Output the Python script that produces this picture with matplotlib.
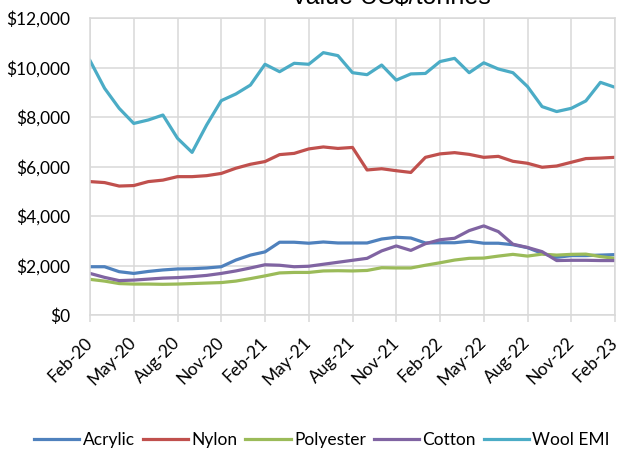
import numpy as np
import matplotlib.pyplot as plt

# Monthly fibre prices, Feb-20 .. Feb-23 (US$/tonne)
months = ["Feb-20", "Mar-20", "Apr-20", "May-20", "Jun-20", "Jul-20", "Aug-20", "Sep-20",
          "Oct-20", "Nov-20", "Dec-20", "Jan-21", "Feb-21", "Mar-21", "Apr-21", "May-21",
          "Jun-21", "Jul-21", "Aug-21", "Sep-21", "Oct-21", "Nov-21", "Dec-21", "Jan-22",
          "Feb-22", "Mar-22", "Apr-22", "May-22", "Jun-22", "Jul-22", "Aug-22", "Sep-22",
          "Oct-22", "Nov-22", "Dec-22", "Jan-23", "Feb-23"]

acrylic = [1950, 1950, 1750, 1680, 1760, 1820, 1860, 1870, 1900, 1950, 2220, 2420, 2550,
           2940, 2940, 2900, 2950, 2910, 2910, 2910, 3070, 3140, 3110, 2910, 2920,
           2920, 2980, 2900, 2900, 2840, 2720, 2490, 2330, 2400, 2400, 2420, 2440]
nylon = [5390, 5350, 5210, 5230, 5390, 5450, 5590, 5590, 5630, 5720, 5930, 6090, 6200,
         6480, 6530, 6710, 6790, 6730, 6770, 5860, 5910, 5830, 5760, 6370, 6510,
         6560, 6490, 6370, 6410, 6210, 6130, 5970, 6020, 6170, 6320, 6340, 6370]
polyester = [1440, 1370, 1270, 1250, 1250, 1240, 1250, 1270, 1290, 1310, 1370, 1470, 1580,
             1700, 1720, 1720, 1780, 1790, 1780, 1800, 1910, 1900, 1900, 2010, 2110,
             2220, 2290, 2300, 2380, 2450, 2380, 2460, 2420, 2450, 2460, 2360, 2290]
cotton = [1680, 1520, 1390, 1410, 1450, 1490, 1510, 1550, 1600, 1680, 1780, 1900, 2030,
          2010, 1950, 1970, 2050, 2130, 2210, 2290, 2590, 2790, 2610, 2880, 3040,
          3100, 3410, 3600, 3370, 2860, 2730, 2560, 2200, 2210, 2210, 2200, 2200]
wool_emi = [10280, 9160, 8350, 7740, 7880, 8080, 7140, 6570, 7680, 8660, 8930, 9290, 10130,
            9830, 10170, 10130, 10600, 10480, 9790, 9710, 10100, 9490, 9740, 9760, 10240,
            10370, 9790, 10190, 9940, 9790, 9230, 8420, 8220, 8350, 8650, 9400, 9200]

series = [("Acrylic", acrylic, "#4F81BD"),
          ("Nylon", nylon, "#C0504D"),
          ("Polyester", polyester, "#9BBB59"),
          ("Cotton", cotton, "#8064A2"),
          ("Wool EMI", wool_emi, "#4BACC6")]

plt.rcParams["font.family"] = ["Lato", "DejaVu Sans"]

fig = plt.figure(figsize=(6.2, 4.51), dpi=100)
ax = fig.add_axes([90 / 620, 1 - 315 / 451, 525 / 620, 297 / 451])

x = np.arange(len(months))
for name, vals, col in series:
    ax.plot(x, vals, color=col, linewidth=2.3, label=name, solid_joinstyle="round")

ax.set_xlim(0, len(months) - 1)
ax.set_ylim(0, 12000)
ax.set_yticks(range(0, 12001, 2000))
ax.set_yticklabels([f"${v:,}" for v in range(0, 12001, 2000)])
ax.set_xticks(x[::3])
ax.set_xticklabels(months[::3], rotation=45, ha="right", va="center", rotation_mode="anchor")

ax.grid(True, color="#D9D9D9", linewidth=1.1)
ax.set_axisbelow(True)
for s in ax.spines.values():
    s.set_color("#D9D9D9")
    s.set_linewidth(1.1)
ax.tick_params(axis="y", length=0, pad=14, labelsize=12.5)
ax.tick_params(axis="x", length=5, color="#D9D9D9", width=1.1, pad=13, labelsize=12.5)

# title sits at the very top edge of the canvas
fig.text(391 / 620, 1 - 4.5 / 451, "Value US$/tonnes", ha="center", va="baseline",
         fontsize=18, family="Liberation Sans")

fig.legend(loc="center", bbox_to_anchor=(322 / 620, 1 - 440 / 451), ncol=5, frameon=False,
           fontsize=12.5, handlelength=2.6, handletextpad=0.2, columnspacing=0.45,
           borderpad=0.0, borderaxespad=0.0)

fig.savefig("out.png", dpi=100)
